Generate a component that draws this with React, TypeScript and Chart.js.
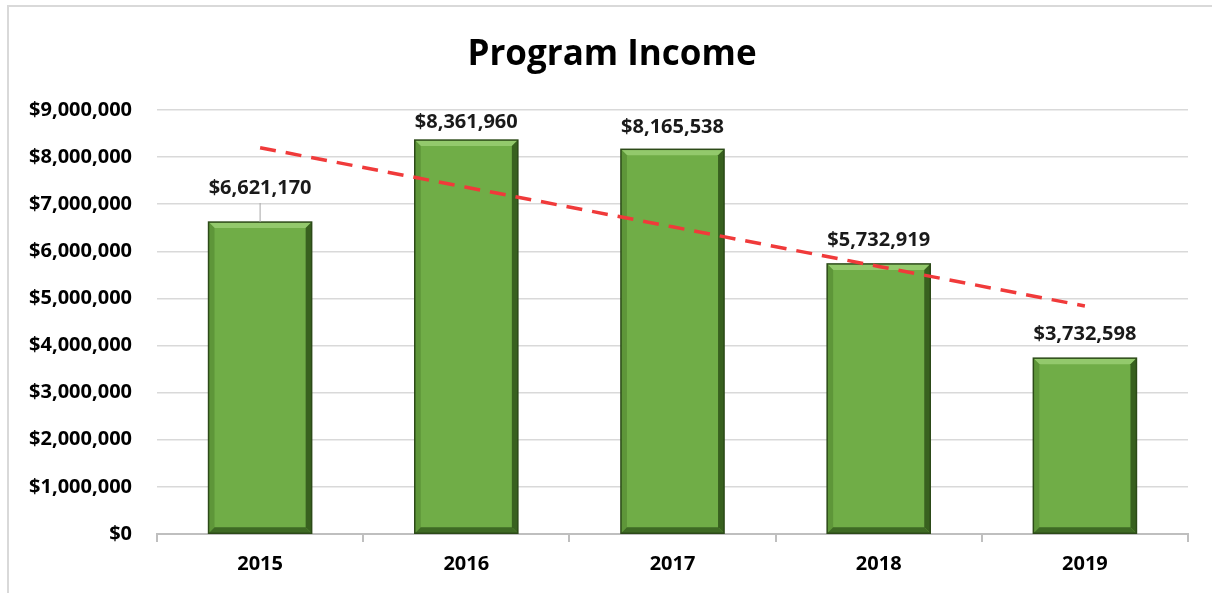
import React, { useEffect, useRef } from "react";
import { Chart, registerables } from "chart.js";

Chart.register(...registerables);

const years = ["2015", "2016", "2017", "2018", "2019"];
const incomeValues = [6621170, 8361960, 8165538, 5732919, 3732598];
const trendValues = [8200000, 7360000, 6520000, 5680000, 4840000];
const labelOffsets = [34, 18, 22, 24, 24];
const chartTitle = "Program Income";

const FONT = "'Open Sans', Lato, sans-serif";
const fmt = (v: number) => "$" + Math.round(v).toLocaleString("en-US");

const bevelPlugin = {
  id: "bevel",
  afterDatasetDraw(chart: any, args: any) {
    if (args.index !== 0) return;
    const ctx = chart.ctx;
    const meta = chart.getDatasetMeta(0);
    const b = 6;
    meta.data.forEach((bar: any) => {
      const { x, y, base, width } = bar.getProps(["x", "y", "base", "width"], true);
      const l = x - width / 2, r = x + width / 2, t = y, bt = base;
      ctx.save();
      const poly = (pts: number[][], color: string) => {
        ctx.beginPath();
        ctx.moveTo(pts[0][0], pts[0][1]);
        pts.slice(1).forEach((p) => ctx.lineTo(p[0], p[1]));
        ctx.closePath();
        ctx.fillStyle = color;
        ctx.fill();
      };
      poly([[l, t], [r, t], [r - b, t + b], [l + b, t + b]], "#93c96c");
      poly([[l, t], [l + b, t + b], [l + b, bt - b], [l, bt]], "#5e9639");
      poly([[r, t], [r, bt], [r - b, bt - b], [r - b, t + b]], "#38611f");
      poly([[l, bt], [r, bt], [r - b, bt - b], [l + b, bt - b]], "#3e6a24");
      ctx.strokeStyle = "#2c4a18";
      ctx.lineWidth = 1.5;
      ctx.strokeRect(l, t, r - l, bt - t);
      ctx.restore();
    });
  },
};

const labelPlugin = {
  id: "valueLabels",
  afterDatasetsDraw(chart: any) {
    const ctx = chart.ctx;
    const meta = chart.getDatasetMeta(0);
    ctx.save();
    ctx.font = `bold 20px ${FONT}`;
    ctx.fillStyle = "#1a1a1a";
    ctx.textAlign = "center";
    ctx.textBaseline = "middle";
    meta.data.forEach((bar: any, i: number) => {
      const off = labelOffsets[i];
      const ly = bar.y - off;
      ctx.fillText(fmt(incomeValues[i]), bar.x, ly);
      if (off > 28) {
        ctx.strokeStyle = "#a6a6a6";
        ctx.lineWidth = 1;
        ctx.beginPath();
        ctx.moveTo(bar.x, ly + 15);
        ctx.lineTo(bar.x, bar.y);
        ctx.stroke();
      }
    });
    ctx.restore();
  },
};

const framePlugin = {
  id: "frame",
  beforeDraw(chart: any) {
    const ctx = chart.ctx;
    ctx.save();
    ctx.fillStyle = "#ffffff";
    ctx.fillRect(0, 0, chart.width, chart.height);
    ctx.strokeStyle = "#d9d9d9";
    ctx.lineWidth = 2;
    ctx.beginPath();
    ctx.moveTo(8, chart.height);
    ctx.lineTo(8, 6);
    ctx.lineTo(chart.width, 6);
    ctx.stroke();
    ctx.font = `bold 35px ${FONT}`;
    ctx.fillStyle = "#000000";
    ctx.textAlign = "center";
    ctx.textBaseline = "middle";
    ctx.fillText(chartTitle, 612, 55);
    ctx.restore();
  },
};

export default function App() {
  const ref = useRef<HTMLCanvasElement>(null);
  useEffect(() => {
    if (!ref.current) return;
    const chart = new Chart(ref.current, {
      type: "bar",
      data: {
        labels: years,
        datasets: [
          {
            type: "bar",
            data: incomeValues,
            backgroundColor: "#70ad47",
            borderWidth: 0,
            barPercentage: 0.5,
            categoryPercentage: 1,
            order: 2,
          },
          {
            type: "line",
            data: trendValues,
            borderColor: "#f03a3a",
            borderWidth: 3.5,
            borderDash: [16, 10],
            pointRadius: 0,
            fill: false,
            order: 1,
          } as any,
        ],
      },
      options: {
        animation: false,
        responsive: false,
        layout: { padding: { top: 110, right: 24, bottom: 17, left: 0 } },
        plugins: {
          legend: { display: false },
          tooltip: { enabled: false },
          title: { display: false },
        },
        scales: {
          x: {
            offset: true,
            grid: {
              display: true,
              drawOnChartArea: false,
              offset: true,
              tickLength: 8,
              color: "#bfbfbf",
              lineWidth: 2,
            },
            border: { display: true, color: "#bfbfbf", width: 2 },
            ticks: {
              color: "#000000",
              padding: 10,
              font: { family: FONT, size: 20, weight: "bold" },
            },
            afterFit: (s: any) => {
              s.height = 42;
            },
          },
          y: {
            min: 0,
            max: 9000000,
            ticks: {
              stepSize: 1000000,
              color: "#000000",
              padding: 25,
              font: { family: FONT, size: 20, weight: "bold" },
              callback: (v: any) => fmt(Number(v)),
            },
            grid: { color: "#d9d9d9", lineWidth: 1.5, drawTicks: false },
            border: { display: false },
            afterFit: (s: any) => {
              s.width = 157;
            },
          },
        },
      },
      plugins: [framePlugin, bevelPlugin, labelPlugin],
    });
    return () => chart.destroy();
  }, []);
  return (
    <div style={{ position: "fixed", left: 0, top: 0, width: 1212, height: 593 }}>
      <canvas ref={ref} width={1212} height={593} style={{ width: 1212, height: 593 }} />
    </div>
  );
}
